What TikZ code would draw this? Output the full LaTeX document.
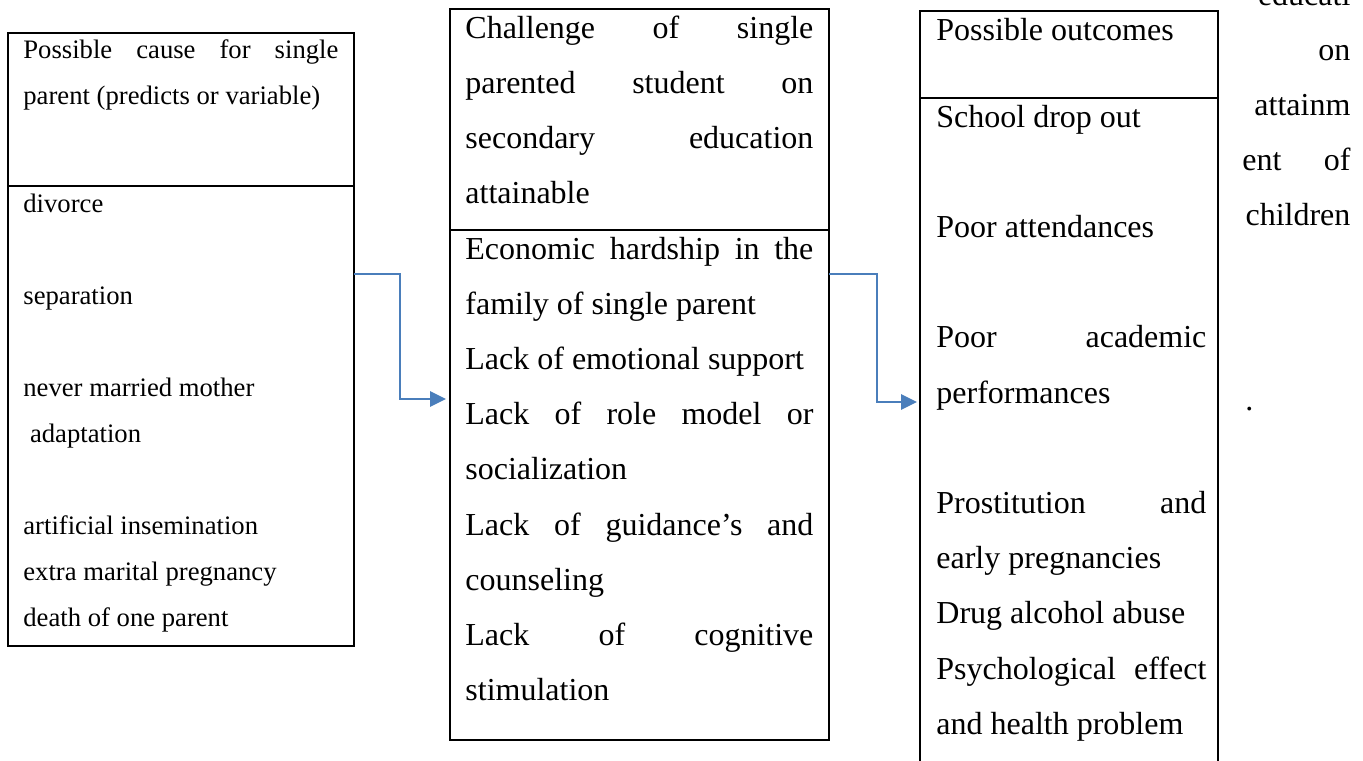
\documentclass[tikz,border=0pt]{standalone}
\usepackage{fontspec}
\setmainfont{Liberation Serif}
\usepackage{tikz}
\usetikzlibrary{positioning,arrows.meta}
\definecolor{flowblue}{RGB}{74,126,187}
\tikzstyle{box}=[draw, line width=1pt, inner sep=0pt, outer sep=0pt, anchor=north west]
\tikzstyle{flow}=[draw=flowblue, line width=1.4pt, -{Triangle[length=8pt,width=7.5pt]}]
\tikzstyle{small}=[inner sep=0pt, anchor=base west, align=justify, font=\fontsize{13.33}{23}\selectfont]
\tikzstyle{big}=[inner sep=0pt, anchor=base west, align=justify, font=\fontsize{16}{27.6}\selectfont]

\begin{document}
\begin{tikzpicture}[x=0.5pt,y=-0.5pt]
            \useasboundingbox (0,0) rectangle (1363,760);
            \clip (0,0) rectangle (1363,760);
            \fill[white] (0,0) rectangle (1363,760);
            % boxes
            \node [box, minimum width=173pt, minimum height=76.5pt] (causehead) at (8,33) {};
            \node [box, minimum width=173pt, minimum height=230pt, below=0pt of causehead] (causebody) {};
            \node [box, minimum width=189.5pt, minimum height=110.5pt] (challhead) at (450,9) {};
            \node [box, minimum width=189.5pt, minimum height=255pt, below=0pt of challhead] (challbody) {};
            \node [box, minimum width=149pt, minimum height=43.5pt] (outhead) at (920,11) {};
            \node [box, minimum width=149pt, minimum height=345pt, below=0pt of outhead] (outbody) {};
            % texts
            \node [small, text width=157.5pt] (causetitle) at (23,58) {Possible cause for single\linebreak parent (predicts or variable)};
            \node [small, text width=157.5pt] (causelist) at (23,212) {divorce\\[23pt] separation\\[23pt] never married mother\\ \hspace*{0.25em}adaptation\\[23pt] artificial insemination\\ extra marital pregnancy\\ death of one parent};
            \node [big, text width=174pt] (challtitle) at (465,38) {Challenge of single\linebreak parented student on\linebreak secondary education\linebreak attainable};
            \node [big, text width=174pt] (challlist) at (465,259) {Economic hardship in the\linebreak family of single parent\\ Lack of emotional support\\ Lack of role model or\linebreak socialization\\ Lack of guidance’s and\linebreak counseling\\ Lack of cognitive\linebreak stimulation};
            \node [big, text width=135pt] (outtitle) at (936,40) {Possible outcomes};
            \node [big, text width=135pt] (outlist) at (936,127) {School drop out\\[27.6pt] Poor attendances\\[27.6pt] Poor academic\linebreak performances\\[27.6pt] Prostitution and\linebreak early pregnancies\\ Drug alcohol abuse\\ Psychological effect\linebreak and health problem};
            \node [big, text width=54pt, align=right] (sidetext) at (1242,5) {educati\\ on\\ attainm\\ \leavevmode\hbox to 54pt{ent\hfill of}\\ children};
            \node [big] (sidedot) at (1245,410) {.};
            % arrows
            \coordinate (bend1) at (400,274);
            \coordinate (tip1) at (446,399);
            \coordinate (bend2) at (877,274);
            \coordinate (tip2) at (917,402);
            \draw[flow] (causebody.east |- bend1) -- (bend1) |- (tip1);
            \draw[flow] (challbody.east |- bend2) -- (bend2) |- (tip2);
        \end{tikzpicture}
\end{document}
